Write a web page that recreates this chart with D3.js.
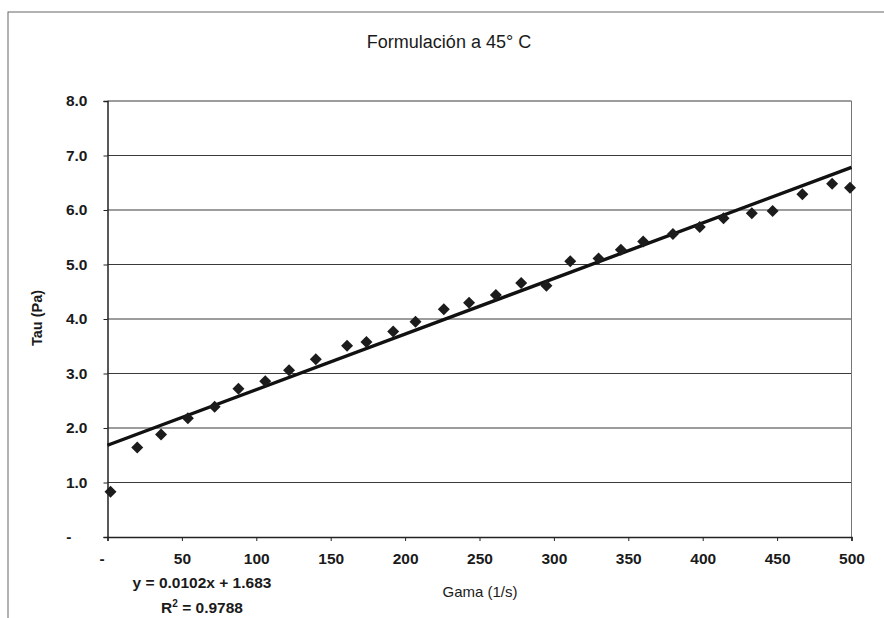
<!DOCTYPE html>
<html>
<head>
<meta charset="utf-8">
<script src="https://cdn.jsdelivr.net/npm/d3@7"></script>
<style>
  body { margin: 0; background: #fff; }
  svg { display: block; font-family: "Liberation Sans", Arial, sans-serif; }
</style>
</head>
<body>
<script>
// shear rate (1/s) and shear stress (Pa)
var gama = [2, 20, 36, 54, 72, 88, 106, 122, 140, 161, 174, 192, 207, 226, 243, 261, 278, 295, 311, 330, 345, 360, 380, 398, 414, 433, 447, 467, 487, 499];
var tau  = [0.83, 1.64, 1.88, 2.18, 2.39, 2.72, 2.86, 3.06, 3.26, 3.51, 3.58, 3.77, 3.95, 4.18, 4.30, 4.44, 4.66, 4.61, 5.06, 5.11, 5.27, 5.42, 5.56, 5.69, 5.85, 5.94, 5.98, 6.29, 6.48, 6.41];
var xTicks = [0, 50, 100, 150, 200, 250, 300, 350, 400, 450, 500];
var yTicks = [0, 1, 2, 3, 4, 5, 6, 7, 8];
var trendSlope = 0.0102, trendIntercept = 1.683;
var trendText = ["y = 0.0102x + 1.683", "R2 = 0.9788"];

var W = 884, H = 618;
var svg = d3.select("body").append("svg").attr("width", W).attr("height", H);

// outer chart frame
svg.append("rect").attr("x", 8).attr("y", 12).attr("width", 900).attr("height", 640)
   .attr("fill", "#fff").attr("stroke", "#666").attr("stroke-width", 1);

var x = d3.scaleLinear().domain([0, 500]).range([107.5, 851.5]);
var y = d3.scaleLinear().domain([0, 8]).range([537, 101]);

// grid lines
svg.append("g").selectAll("line.grid")
   .data(yTicks.slice(1))
   .enter().append("line")
   .attr("class", "grid")
   .attr("x1", x(0)).attr("x2", x(500))
   .attr("y1", function(d){ return y(d); })
   .attr("y2", function(d){ return y(d); })
   .attr("stroke", "#3a3a3a").attr("stroke-width", 1);

// right edge of plot area
svg.append("line").attr("x1", x(500)).attr("x2", x(500)).attr("y1", y(8)).attr("y2", y(0))
   .attr("stroke", "#777").attr("stroke-width", 1);

var fmt = function(d){ return d === 0 ? "-" : d3.format(".1f")(d); };

var yAxis = svg.append("g").attr("transform", "translate(" + x(0) + ",0)")
   .call(d3.axisLeft(y).tickValues(yTicks).tickSize(4).tickPadding(16).tickFormat(fmt));
var xAxis = svg.append("g").attr("transform", "translate(0," + y(0) + ")")
   .call(d3.axisBottom(x).tickValues(xTicks).tickSize(4).tickPadding(12).tickFormat(function(d){ return d === 0 ? "-" : d; }));

[yAxis, xAxis].forEach(function(a){
  a.select(".domain").attr("stroke", "#222").attr("stroke-width", 1.5);
  a.selectAll(".tick line").attr("stroke", "#222");
  a.selectAll("text").attr("fill", "#1a1a1a").attr("font-size", "15.5px").attr("font-weight", "bold")
   .attr("font-family", "Liberation Sans, Arial, sans-serif");
});
// Excel puts the zero dash further out
yAxis.selectAll(".tick").filter(function(d){ return d === 0; }).select("text").attr("x", -36);
xAxis.selectAll(".tick").filter(function(d){ return d === 0; }).select("text").attr("x", -6);

// trend line
var line = d3.line().x(function(d){ return x(d); }).y(function(d){ return y(trendIntercept + trendSlope*d); });
svg.append("path").attr("d", line([0, 500]))
   .attr("fill", "none").attr("stroke", "#111").attr("stroke-width", 3.4);

// data markers
svg.selectAll("path.pt")
   .data(gama)
   .enter().append("path")
   .attr("class", "pt")
   .attr("d", d3.symbol().type(d3.symbolSquare).size(72))
   .attr("transform", function(d, i){ return "translate(" + x(d) + "," + y(tau[i]) + ") rotate(45)"; })
   .attr("fill", "#1c1c1c");

// titles
svg.append("text").attr("x", 449).attr("y", 48).attr("text-anchor", "middle")
   .attr("font-size", "18px").attr("fill", "#1a1a1a").text("Formulación a 45° C");
svg.append("text").attr("transform", "translate(42,318) rotate(-90)").attr("text-anchor", "middle")
   .attr("font-size", "14.5px").attr("font-weight", "bold").attr("fill", "#1a1a1a").text("Tau (Pa)");
svg.append("text").attr("x", 480).attr("y", 597).attr("text-anchor", "middle")
   .attr("font-size", "15px").attr("fill", "#1a1a1a").text("Gama (1/s)");

// trendline label
svg.append("text").attr("x", 202).attr("y", 588).attr("text-anchor", "middle")
   .attr("font-size", "15.5px").attr("font-weight", "bold").attr("fill", "#1a1a1a").text(trendText[0]);
var r2 = svg.append("text").attr("x", 202).attr("y", 613).attr("text-anchor", "middle")
   .attr("font-size", "15.5px").attr("font-weight", "bold").attr("fill", "#1a1a1a");
r2.append("tspan").text("R");
r2.append("tspan").attr("font-size", "10px").attr("dy", -6).text("2");
r2.append("tspan").attr("dy", 6).text(trendText[1].slice(2));
</script>
</body>
</html>
